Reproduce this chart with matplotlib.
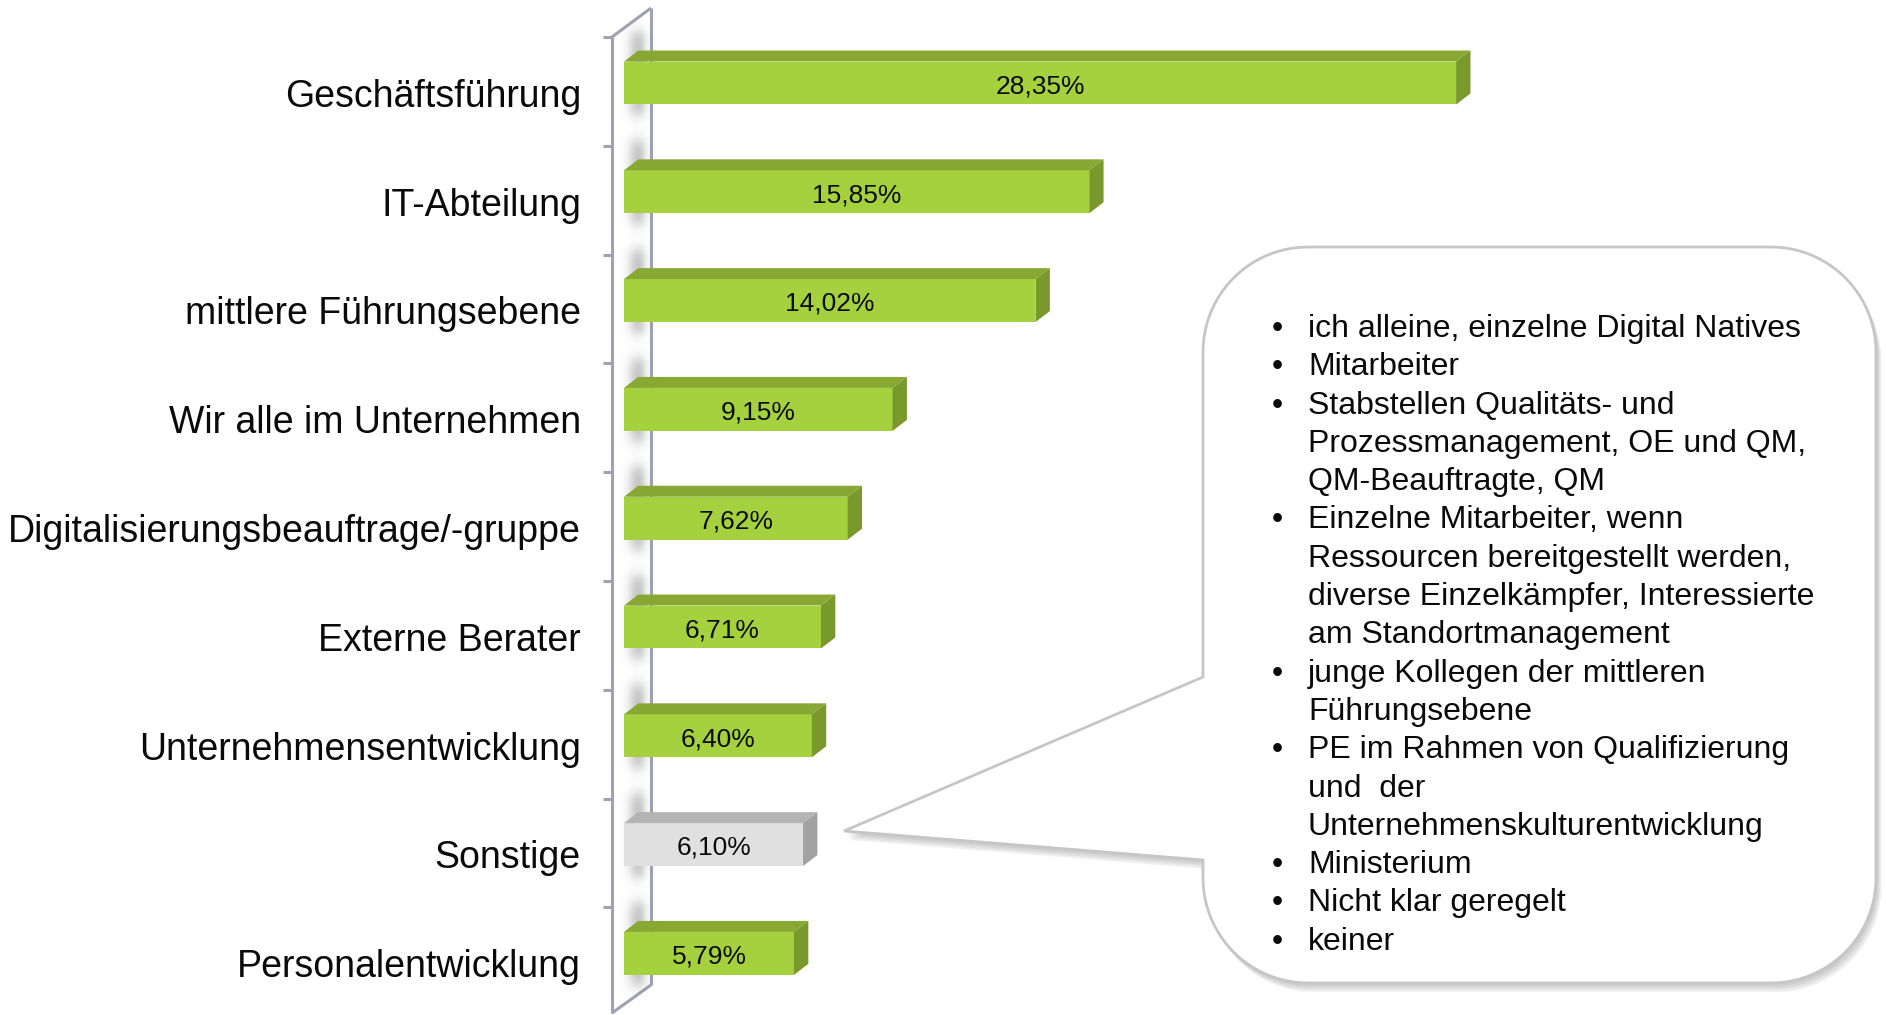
import numpy as np
import matplotlib
matplotlib.use('Agg')
import matplotlib.pyplot as plt
from matplotlib.patches import Polygon, PathPatch
from matplotlib.path import Path
from matplotlib.transforms import Affine2D

# ---------------- data ----------------
categories = ["Geschäftsführung", "IT-Abteilung", "mittlere Führungsebene",
              "Wir alle im Unternehmen", "Digitalisierungsbeauftrage/-gruppe",
              "Externe Berater", "Unternehmensentwicklung", "Sonstige",
              "Personalentwicklung"]
values = [28.35, 15.85, 14.02, 9.15, 7.62, 6.71, 6.40, 6.10, 5.79]
highlight = "Sonstige"

callout_lines = [
    (True,  "ich alleine, einzelne Digital Natives"),
    (True,  "Mitarbeiter"),
    (True,  "Stabstellen Qualitäts- und"),
    (False, "Prozessmanagement, OE und QM,"),
    (False, "QM-Beauftragte, QM"),
    (True,  "Einzelne Mitarbeiter, wenn"),
    (False, "Ressourcen bereitgestellt werden,"),
    (False, "diverse Einzelkämpfer, Interessierte"),
    (False, "am Standortmanagement"),
    (True,  "junge Kollegen der mittleren"),
    (False, "Führungsebene"),
    (True,  "PE im Rahmen von Qualifizierung"),
    (False, "und  der"),
    (False, "Unternehmenskulturentwicklung"),
    (True,  "Ministerium"),
    (True,  "Nicht klar geregelt"),
    (True,  "keiner"),
]

# ---------------- style ----------------
plt.rcParams['font.family'] = ['Liberation Sans', 'DejaVu Sans']
W, H = 1886, 1015
fig = plt.figure(figsize=(W / 100, H / 100), dpi=100)
fig.patch.set_facecolor('white')

x0_px, px_per_pct = 624, 29.35
y0_px, px_per_cat = 83, 108.8
ax = fig.add_axes([x0_px / W, 0, 1 - x0_px / W, 1])
ax.set_xlim(0, (W - x0_px) / px_per_pct)
ax.set_ylim((H - y0_px) / px_per_cat, -y0_px / px_per_cat)
ax.set_facecolor('none')
for s in ax.spines.values():
    s.set_visible(False)
ax.set_xticks([])
n = len(categories)
ax.set_yticks(np.arange(n) + 0.09)
ax.set_yticklabels(categories, fontsize=27, color='#0a0a0a')
ax.tick_params(axis='y', length=0, pad=31)

# ---------------- 3D wall ----------------
wall_col = '#A0A2B4'
xl = (612 - x0_px) / px_per_pct
xr = (651 - x0_px) / px_per_pct
ytl, ytr = -0.423, -0.689
ybr, ybl = 8.29, 8.548
kw = dict(color=wall_col, lw=2.2, clip_on=False, zorder=1, solid_capstyle='butt')
ax.plot([xl, xl], [ytl, ybl], **kw)
ax.plot([xr, xr], [ytr, ybr], **kw)
ax.plot([xl, xr], [ytl, ytr], **kw)
ax.plot([xr, xl], [ybr, ybl], **kw)
xt = (603 - x0_px) / px_per_pct
for k in range(n):
    ax.plot([xt, xl], [ytl + k, ytl + k], **kw)

# ---------------- bars ----------------
h = 0.395
dx, dy = 0.49, 0.101
green = dict(front='#A6D13F', top='#88A834', side='#7A992D')
grey = dict(front='#E0E0E0', top='#B4B4B4', side='#A2A2A2')


def sig(z):
    return 1.0 / (1.0 + np.exp(-z))


for i, (cat, v) in enumerate(zip(categories, values)):
    c = grey if cat == highlight else green
    yt, yb = i - h / 2, i + h / 2
    # soft blurred shadow of the bar on the wall
    sx0, sx1 = -0.25, 1.1
    sy0, sy1 = yt - dy - 0.42, yb + 0.3
    gx = np.linspace(sx0, sx1, 60)
    gy = np.linspace(sy0, sy1, 120)
    X, Y = np.meshgrid(gx, gy)
    s_x = 3.0 / px_per_pct
    s_y = 4.0 / px_per_cat
    a = (sig((X - 0.1) / s_x) * sig((0.62 - X) / s_x) *
         sig((Y - (yt - dy - 0.17)) / s_y) * sig(((yb + 0.1) - Y) / s_y))
    a *= 0.35 + 0.65 * np.clip((X - 0.1) / 0.52, 0, 1)
    rgba = np.zeros(X.shape + (4,))
    rgba[..., :3] = 0.42
    rgba[..., 3] = 0.6 * a
    ax.imshow(rgba, extent=(sx0, sx1, sy1, sy0), origin='upper',
              aspect='auto', interpolation='bilinear', zorder=1.5, clip_on=False)
    ax.barh(i, v, height=h, left=0, color=c['front'], edgecolor='none', zorder=3)
    ax.add_patch(Polygon([(0, yt), (v, yt), (v + dx, yt - dy), (dx, yt - dy)],
                         closed=True, facecolor=c['top'], edgecolor='none', zorder=3))
    ax.add_patch(Polygon([(v, yt), (v + dx, yt - dy), (v + dx, yb - dy), (v, yb)],
                         closed=True, facecolor=c['side'], edgecolor='none', zorder=3))
    lab = f"{v:.2f}".replace('.', ',') + "%"
    ax.text(v / 2, i + 0.03, lab, ha='center', va='center', fontsize=19,
            color='#0a0a0a', zorder=4)

ax.set_xlim(0, (W - x0_px) / px_per_pct)
ax.set_ylim((H - y0_px) / px_per_cat, -y0_px / px_per_cat)

# ---------------- callout ----------------
tr = Affine2D().scale(1 / W, -1 / H).translate(0, 1) + fig.transFigure

bx0, by0, bx1, by1, r = 1203, 247, 1876, 983, 105
tail_top, tail_bot = 677, 860
tip = (844, 831)


def arc(cx, cy, a0, a1, m=24):
    t = np.linspace(np.radians(a0), np.radians(a1), m)
    return list(zip(cx + r * np.cos(t), cy + r * np.sin(t)))


pts = []
pts += [(bx0 + r, by0), (bx1 - r, by0)]
pts += arc(bx1 - r, by0 + r, -90, 0)
pts += [(bx1, by1 - r)]
pts += arc(bx1 - r, by1 - r, 0, 90)
pts += [(bx0 + r, by1)]
pts += arc(bx0 + r, by1 - r, 90, 180)
pts += [(bx0, tail_bot), tip, (bx0, tail_top), (bx0, by0 + r)]
pts += arc(bx0 + r, by0 + r, 180, 270)
pts = np.array(pts)

# shadow
for k, off in enumerate([9, 7, 5, 3]):
    sp = pts + np.array([off * 0.6, off])
    fig.patches.append(PathPatch(Path(sp, closed=True), transform=tr,
                                 facecolor='#8c8c8c', edgecolor='none',
                                 alpha=0.13, zorder=5))
fig.patches.append(PathPatch(Path(pts, closed=True), transform=tr,
                             facecolor='white', edgecolor='#C6C6C6',
                             lw=2.0, zorder=6))

bullet_x, text_x = 1277, 1308
line_y0, line_dy = 329, 38.3
for j, (has_bullet, txt) in enumerate(callout_lines):
    y = line_y0 + j * line_dy
    if has_bullet:
        fig.text(bullet_x, y, "•", transform=tr, ha='center', va='center',
                 fontsize=23, color='#0a0a0a', zorder=7)
    fig.text(text_x, y, txt, transform=tr, ha='left', va='center',
             fontsize=23, color='#0a0a0a', zorder=7)

fig.savefig('out.png', dpi=100, facecolor='white')
